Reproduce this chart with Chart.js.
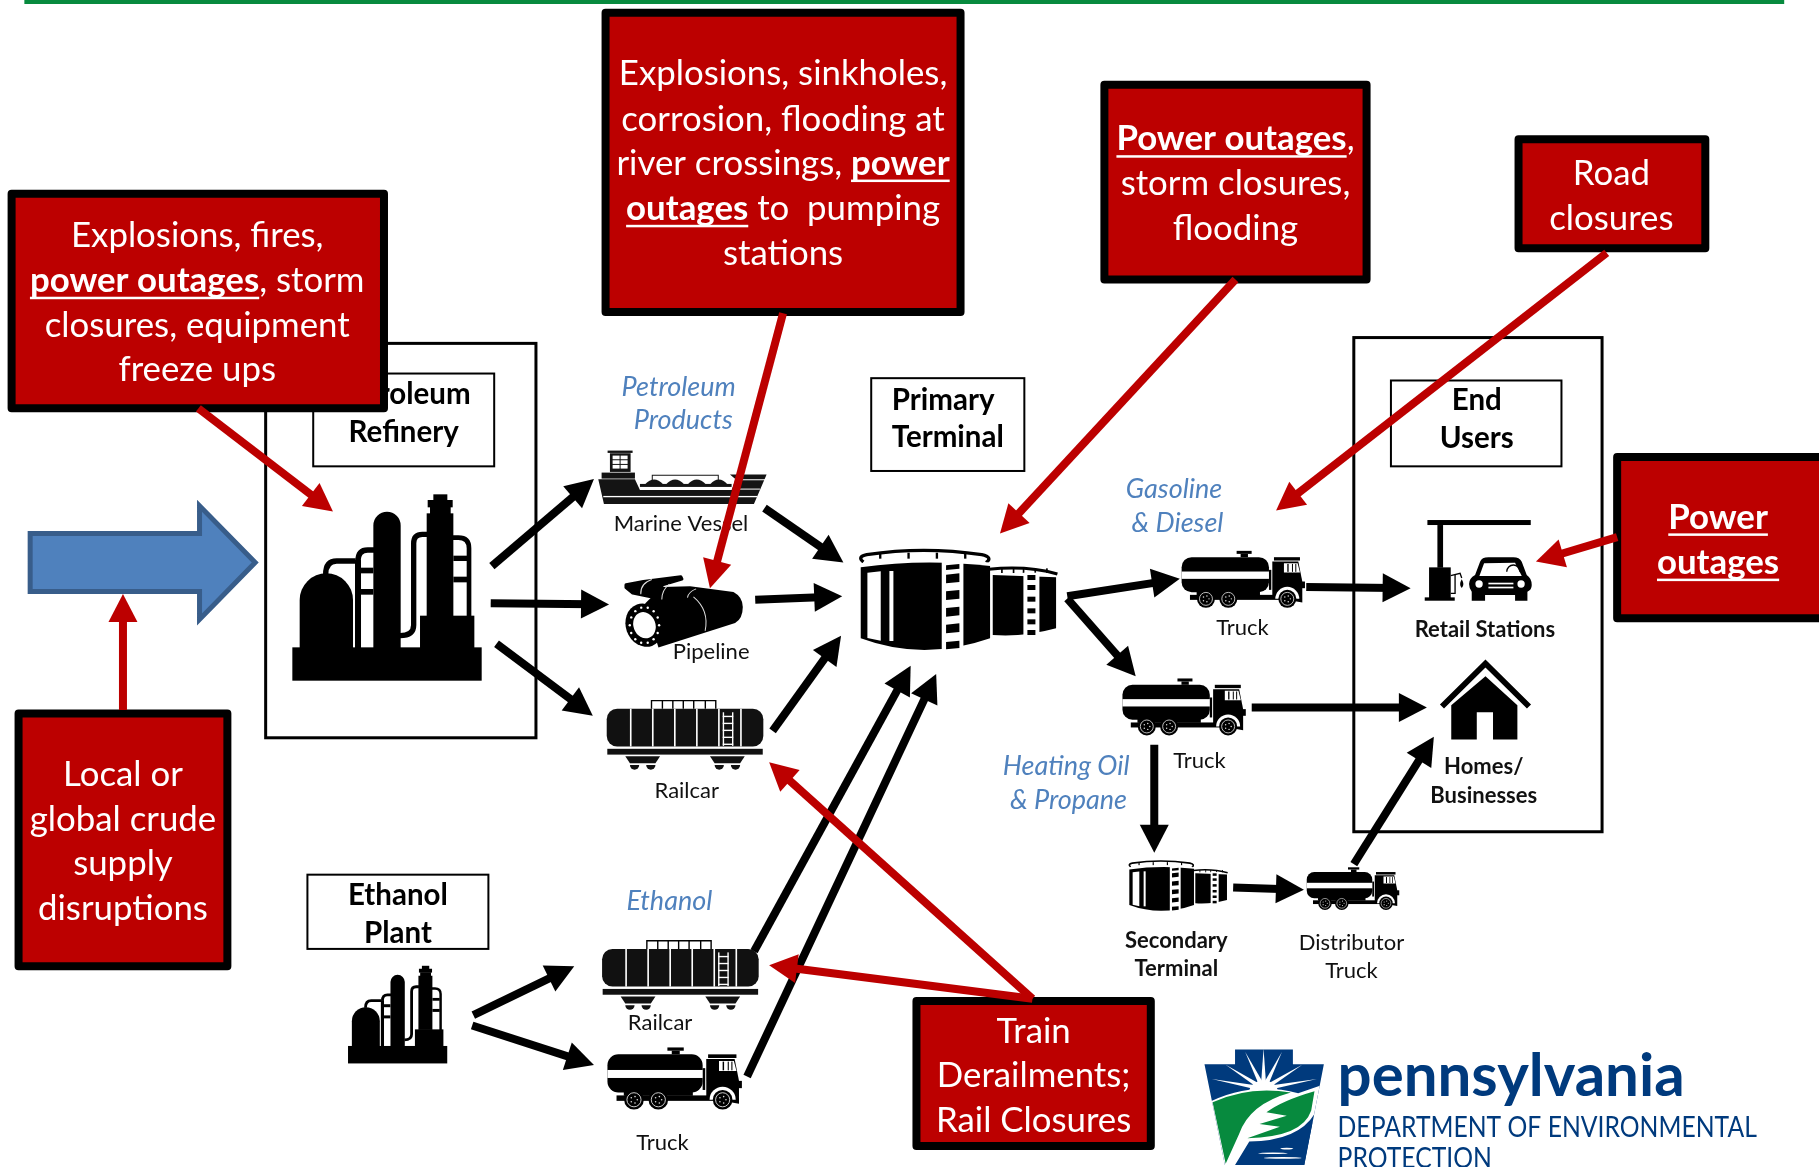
<!DOCTYPE html>
<html>
<head>
<meta charset="utf-8">
<title>Petroleum supply chain hazards</title>
<script src="https://cdn.jsdelivr.net/npm/chart.js@4"></script>
<style>
  html, body { margin: 0; padding: 0; background: #fff; }
  canvas { display: block; }
</style>
</head>
<body>
<canvas id="chart" width="1819" height="1167"></canvas>
<script>
// all coordinates are in the axis units (0-1568 across, 0-1006 down)
const blackArrows = [
  [424, 488, 512, 413], [423, 520, 525, 521], [428, 555, 511, 617],
  [659, 438, 727, 485], [651, 517, 726, 514], [666, 630, 725, 548],
  [650, 820, 785, 574], [644, 928, 807, 581],
  [408, 875, 495, 833], [407, 884, 512, 918],
  [920, 514, 1017, 499], [920, 516, 979, 583],
  [1126, 506, 1216, 507], [1079, 610, 1230, 610], [995, 642, 995, 735],
  [1063, 765, 1124, 767], [1167, 745, 1236, 635],
];
const redArrows = [
  [171, 352, 287, 441], [106, 612, 106, 512], [675, 270, 612, 507],
  [1065, 241, 862, 460], [1385, 218, 1100, 440], [1394, 463, 1324, 484],
  [890, 861, 663, 657], [890, 861, 663, 832],
];

// [left, top, right, bottom]
const hazardBoxes = [
  [10, 167, 331, 352], [522, 11, 828, 269], [952, 73, 1178, 241], [1309, 120, 1470, 214],
  [1394, 394, 1572, 533], [16, 615, 196, 833], [790, 863, 992, 988],
];
const hazardCentres = [170, 675, 1065, 1389, 1481, 106, 891];
const hazardLineY = [
  [203, 242, 281, 319], [64, 103, 141, 180, 219], [120, 158, 197], [150, 189],
  [446, 485], [668, 707, 745, 783], [889, 927, 966],
];
// a run wrapped in * * is bold and underlined
const hazardText = [
  ['Explosions, fires,', '*power outages*, storm', 'closures, equipment', 'freeze ups'],
  ['Explosions, sinkholes,', 'corrosion, flooding at', 'river crossings, *power*', '*outages* to  pumping', 'stations'],
  ['*Power outages*,', 'storm closures,', 'flooding'],
  ['Road', 'closures'],
  ['*Power*', '*outages*'],
  ['Local or', 'global crude', 'supply', 'disruptions'],
  ['Train', 'Derailments;', 'Rail Closures'],
];

const frames = [[229, 296, 462, 636], [1167, 291, 1381, 717]];
const titleBoxes = [[270, 322, 426, 402], [751, 326, 883, 406], [1199, 328, 1346, 402], [265, 754, 421, 818]];
const titleText = [
  ['Petroleum', 347, 340], ['Refinery', 348, 373],
  ['Primary', 813, 345], ['Terminal', 817, 377],
  ['End', 1273, 345], ['Users', 1273, 378],
  ['Ethanol', 343, 772], ['Plant', 343, 805],
];
const productText = [
  ['Petroleum', 585, 334], ['Products', 589, 362],
  ['Gasoline', 1012, 422], ['& Diesel', 1015, 451],
  ['Heating Oil', 919, 661], ['& Propane', 921, 690],
  ['Ethanol', 577, 777],
];
const modeText = [
  ['Marine Vessel', 587, 452], ['Pipeline', 613, 562], ['Railcar', 592, 682],
  ['Railcar', 569, 882], ['Truck', 571, 985], ['Truck', 1071, 541],
  ['Truck', 1034, 656], ['Distributor', 1165, 813], ['Truck', 1165, 837],
];
const placeText = [
  ['Retail Stations', 1280, 543], ['Homes/', 1279, 661], ['Businesses', 1279, 686],
  ['Secondary', 1014, 811], ['Terminal', 1014, 835],
];
const blueArrow = [[26, 460], [172, 460], [172, 436], [220, 485], [172, 534], [172, 510], [26, 510]];

// icon placements: [left, top, scale]
const refineries = [[252, 427, 1], [300, 833, 0.524]];
const tanks = [[739, 472, 1], [972, 741, 0.5]];
const trucks = [[1018, 474, 1], [967, 584, 1], [1126, 747, 0.75], [523, 902, 1.09]];
const railcars = [[523, 603, 1], [519, 810, 1]];

const RED = '#BC0000';
const BLACK = '#000';
const FONT = 'Lato';
const ICON = 1 / 3.48; // icons are traced at 3x the full size picture

function arrowDataset(a, color) {
  const len = Math.hypot(a[2] - a[0], a[3] - a[1]);
  const back = (len - 14) / len;
  return {
    data: [{ x: a[0], y: a[1] }, { x: a[0] + (a[2] - a[0]) * back, y: a[1] + (a[3] - a[1]) * back }],
    tip: { x: a[2], y: a[3] },
    borderColor: color,
    borderWidth: 8,
    pointRadius: 0,
    showLine: true,
    tension: 0,
  };
}

function text(ctx, s, x, y, font, color) {
  ctx.font = font;
  ctx.fillStyle = color;
  ctx.textAlign = 'center';
  ctx.textBaseline = 'middle';
  ctx.fillText(s, x, y);
}

function hazardLine(ctx, line, cx, y) {
  const parts = line.split('*');
  const reg = '34.8px ' + FONT;
  const bold = 'bold 34.8px ' + FONT;
  let total = 0;
  parts.forEach((p, i) => { ctx.font = i % 2 ? bold : reg; total += ctx.measureText(p).width; });
  let x = cx - total / 2;
  ctx.textAlign = 'left';
  ctx.textBaseline = 'middle';
  ctx.fillStyle = '#fff';
  parts.forEach((p, i) => {
    ctx.font = i % 2 ? bold : reg;
    const w = ctx.measureText(p).width;
    ctx.fillText(p, x, y);
    if (i % 2) ctx.fillRect(x, y + 16, w, 2.5);
    x += w;
  });
}

function poly(ctx, pts) {
  ctx.beginPath();
  pts.forEach((p, i) => (i ? ctx.lineTo(p[0], p[1]) : ctx.moveTo(p[0], p[1])));
  ctx.closePath();
}

function trace(c, ox, oy) {
  c.scale(ICON, ICON);
  c.translate(-ox, -oy);
}

function drawRefinery(c) {
  trace(c, 22, 31);
  c.fillStyle = BLACK;
  c.strokeStyle = BLACK;
  c.fillRect(22, 487, 568, 100);
  c.beginPath(); c.arc(124, 345, 80, Math.PI, 0); c.lineTo(204, 490); c.lineTo(44, 490); c.fill();
  c.beginPath(); c.arc(306, 121, 41, Math.PI, 0); c.lineTo(347, 490); c.lineTo(265, 490); c.fill();
  c.fillRect(445, 28, 42, 20);
  c.fillRect(428, 45, 75, 22);
  c.fillRect(435, 65, 62, 22);
  c.fillRect(425, 85, 80, 310);
  c.fillRect(405, 392, 163, 98);
  c.fillRect(210, 225, 18, 265);
  c.fillRect(228, 248, 37, 17);
  c.fillRect(228, 312, 37, 17);
  c.lineWidth = 16;
  c.beginPath(); c.moveTo(122, 268); c.quadraticCurveTo(122, 228, 155, 228); c.lineTo(212, 228); c.stroke();
  c.beginPath(); c.moveTo(219, 228); c.quadraticCurveTo(219, 195, 248, 195); c.lineTo(268, 195); c.stroke();
  c.beginPath(); c.moveTo(428, 148); c.lineTo(412, 148); c.quadraticCurveTo(386, 148, 386, 175);
  c.lineTo(386, 420); c.quadraticCurveTo(386, 452, 345, 452); c.stroke();
  c.lineWidth = 14;
  c.beginPath(); c.moveTo(502, 158); c.lineTo(520, 158); c.quadraticCurveTo(552, 158, 552, 190); c.lineTo(552, 395); c.stroke();
  c.fillRect(505, 212, 42, 16);
  c.fillRect(505, 275, 42, 17);
}

function drawTank(c) {
  trace(c, 21.7, 22.6);
  c.fillStyle = BLACK;
  c.strokeStyle = BLACK;
  // small tank first so the big one sits in front
  c.beginPath(); c.moveTo(428, 105); c.lineTo(618, 112); c.lineTo(618, 265);
  c.quadraticCurveTo(520, 292, 428, 285); c.closePath(); c.fill();
  c.lineWidth = 9;
  c.beginPath(); c.moveTo(416, 88); c.quadraticCurveTo(530, 76, 622, 102); c.stroke();
  [455, 490, 520, 555, 590].forEach((x) => c.fillRect(x - 2, 85, 5, 14));
  c.beginPath(); c.moveTo(32, 82); c.quadraticCurveTo(220, 55, 420, 78); c.lineTo(420, 295);
  c.quadraticCurveTo(220, 365, 32, 295); c.closePath(); c.fill();
  c.lineWidth = 10;
  c.beginPath(); c.moveTo(40, 66); c.quadraticCurveTo(20, 50, 50, 44); c.quadraticCurveTo(220, 18, 395, 44);
  c.quadraticCurveTo(430, 52, 408, 68); c.stroke();
  [90, 175, 260, 345].forEach((x) => c.fillRect(x - 3, 38, 7, 18));
  c.fillStyle = '#fff';
  c.lineWidth = 5;
  c.strokeStyle = '#fff';
  c.beginPath(); c.moveTo(30, 72); c.quadraticCurveTo(220, 52, 420, 70); c.stroke();
  poly(c, [[52, 98], [92, 94], [92, 302], [52, 294]]); c.fill();
  c.fillRect(118, 93, 12, 210);
  c.fillRect(275, 64, 65, 270);
  c.fillRect(520, 98, 48, 192);
  c.fillStyle = BLACK;
  [[72, 18], [100, 30], [150, 30], [200, 30], [250, 30], [302, 26]].forEach((s) => {
    poly(c, [[288, s[0] + 4], [328, s[0]], [328, s[0] + s[1] - 4], [288, s[0] + s[1]]]); c.fill();
  });
  [105, 135, 170, 205, 238, 270].forEach((y) => c.fillRect(532, y, 24, 15));
}

function wheel(c, x, y, r) {
  c.fillStyle = BLACK;
  c.beginPath(); c.arc(x, y, r, 0, 7); c.fill();
  c.strokeStyle = '#ddd';
  c.lineWidth = 2.5;
  c.beginPath(); c.arc(x, y, r * 0.72, 0, 7); c.stroke();
  c.fillStyle = '#ddd';
  for (let i = 0; i < 5; i++) {
    c.beginPath(); c.arc(x + r * 0.34 * Math.cos(i * 1.257), y + r * 0.34 * Math.sin(i * 1.257), 2.2, 0, 7); c.fill();
  }
}

function drawTruck(c) {
  trace(c, 33, 30);
  c.fillStyle = BLACK;
  c.beginPath(); c.roundRect(35, 52, 262, 105, 30); c.fill();
  c.fillRect(200, 33, 45, 9);
  c.fillRect(212, 42, 22, 10);
  c.fillRect(297, 90, 7, 60);
  c.fillRect(60, 165, 270, 15);
  c.fillRect(80, 152, 190, 14);
  c.fillRect(312, 52, 78, 10);
  poly(c, [[307, 65], [385, 65], [397, 125], [397, 188], [307, 172]]);
  c.fill();
  c.fillRect(387, 125, 18, 20);
  c.fillStyle = '#fff';
  c.fillRect(35, 95, 262, 22);
  poly(c, [[342, 70], [383, 70], [390, 98], [342, 98]]);
  c.fill();
  c.beginPath(); c.arc(352, 177, 36, Math.PI, 0); c.fill();
  c.fillStyle = BLACK;
  c.fillRect(352, 72, 4, 24);
  c.fillRect(366, 72, 3, 24);
  c.fillRect(376, 72, 3, 24);
  wheel(c, 108, 177, 27);
  wheel(c, 175, 177, 27);
  wheel(c, 352, 177, 27);
}

function drawRailcar(c) {
  c.strokeStyle = BLACK;
  c.lineWidth = 1.2;
  c.beginPath(); c.moveTo(38.6, 8); c.lineTo(38.6, 1); c.lineTo(94, 1); c.lineTo(94, 8);
  [48, 57, 66, 75, 85].forEach((x) => { c.moveTo(x, 1); c.lineTo(x, 8); });
  c.stroke();
  c.fillStyle = '#111';
  c.beginPath(); c.roundRect(0, 8, 135, 32.5, 9); c.fill();
  c.fillRect(0.5, 42.5, 134, 5);
  [[16, 46], [89, 119]].forEach((b) => {
    poly(c, [[b[0], 49], [b[1], 49], [b[1] - 4, 55], [b[0] + 4, 55]]);
    c.fill();
    [b[0] + 8, b[1] - 8].forEach((x) => { c.beginPath(); c.arc(x, 56.5, 4, 0, Math.PI); c.fill(); });
  });
  c.fillStyle = '#fff';
  [20, 39, 58, 77, 96, 115].forEach((x) => c.fillRect(x, 8, 1.4, 32.5));
  c.fillRect(100, 11, 1.2, 29);
  c.fillRect(108, 11, 1.2, 29);
  for (let y = 14; y < 40; y += 6) c.fillRect(100, y, 9, 1.2);
}

function drawShip(c) {
  trace(c, 26, 34);
  c.fillStyle = '#141414';
  c.strokeStyle = '#141414';
  poly(c, [[25, 118], [135, 118], [150, 150], [425, 150], [437, 118], [420, 104], [530, 104], [492, 192], [42, 192]]);
  c.fill();
  c.fillRect(53, 32, 75, 7);
  c.fillRect(60, 40, 62, 56);
  c.fillRect(35, 98, 100, 18);
  c.fillRect(150, 132, 275, 9);
  [[165, 220], [228, 283], [293, 348], [360, 413]].forEach((t) => {
    c.beginPath(); c.moveTo(t[0], 134); c.quadraticCurveTo((t[0] + t[1]) / 2, 104, t[1], 134); c.fill();
  });
  c.lineWidth = 3;
  c.beginPath(); c.moveTo(187, 120); c.lineTo(187, 106); c.lineTo(385, 106); c.lineTo(385, 120); c.stroke();
  c.fillStyle = '#fff';
  c.fillRect(40, 168, 462, 4);
  c.fillRect(432, 118, 98, 3);
  c.fillRect(440, 146, 70, 3);
  for (let i = 0; i < 2; i++) for (let j = 0; j < 3; j++) c.fillRect(68 + i * 24, 47 + j * 14, 21, 11);
}

function drawPipeline(c) {
  trace(c, 102, 402);
  c.fillStyle = BLACK;
  c.strokeStyle = BLACK;
  c.lineJoin = 'round';
  c.lineWidth = 10;
  poly(c, [[108, 434], [160, 424], [272, 410], [275, 416], [215, 434], [215, 476], [128, 458], [108, 442]]);
  c.fill();
  c.stroke();
  c.beginPath(); c.moveTo(165, 490); c.lineTo(215, 440); c.lineTo(300, 438); c.lineTo(430, 455);
  c.quadraticCurveTo(458, 470, 458, 500); c.quadraticCurveTo(458, 535, 435, 548);
  c.lineTo(205, 622); c.closePath(); c.fill();
  c.beginPath(); c.ellipse(163, 555, 56, 66, -0.35, 0, 7); c.fill();
  c.strokeStyle = '#ddd';
  c.lineWidth = 3;
  c.beginPath(); c.moveTo(310, 470); c.quadraticCurveTo(358, 510, 345, 572); c.stroke();
  c.beginPath(); c.moveTo(238, 432); c.quadraticCurveTo(215, 450, 215, 478); c.stroke();
  c.beginPath(); c.moveTo(318, 446); c.quadraticCurveTo(295, 455, 292, 472); c.stroke();
  c.beginPath(); c.moveTo(185, 418); c.quadraticCurveTo(150, 430, 152, 462); c.stroke();
  c.fillStyle = '#fff';
  c.beginPath(); c.ellipse(163, 555, 33, 40, -0.35, 0, 7); c.fill();
  for (let i = 0; i < 14; i++) {
    const a = i * 0.449;
    c.beginPath(); c.arc(163 + 44 * Math.cos(a), 555 + 54 * Math.sin(a), 3.6, 0, 7); c.fill();
  }
}

function drawStation(c) {
  trace(c, 17, 29);
  c.fillStyle = BLACK;
  c.fillRect(22, 30, 310, 15);
  c.fillRect(52, 45, 17, 128);
  c.fillRect(27, 172, 65, 92);
  c.fillRect(14, 262, 90, 10);
  c.strokeStyle = BLACK;
  c.lineWidth = 4;
  c.beginPath(); c.moveTo(92, 197); c.lineTo(120, 190); c.lineTo(125, 204); c.stroke();
  c.beginPath(); c.moveTo(92, 250); c.lineTo(105, 250); c.lineTo(105, 195); c.stroke();
  c.beginPath(); c.moveTo(125, 208); c.quadraticCurveTo(135, 225, 125, 234); c.quadraticCurveTo(115, 225, 125, 208); c.fill();
  // car
  c.beginPath(); c.moveTo(165, 195); c.lineTo(180, 155); c.quadraticCurveTo(185, 142, 205, 142);
  c.lineTo(280, 142); c.quadraticCurveTo(298, 142, 305, 155); c.lineTo(320, 195);
  c.quadraticCurveTo(335, 205, 335, 225); c.quadraticCurveTo(335, 240, 322, 245);
  c.lineTo(322, 272); c.lineTo(285, 272); c.lineTo(285, 255); c.lineTo(195, 255); c.lineTo(195, 272);
  c.lineTo(155, 272); c.lineTo(155, 245); c.quadraticCurveTo(147, 235, 147, 222);
  c.quadraticCurveTo(147, 205, 165, 195); c.closePath(); c.fill();
  c.fillStyle = '#fff';
  poly(c, [[178, 198], [192, 160], [285, 158], [305, 198]]);
  c.fill();
  c.beginPath(); c.arc(177, 222, 11, 0, 7); c.fill();
  c.beginPath(); c.arc(303, 222, 11, 0, 7); c.fill();
  c.fillRect(205, 218, 75, 5);
  c.fillRect(205, 230, 75, 5);
  c.strokeStyle = BLACK;
  c.beginPath(); c.arc(280, 185, 20, Math.PI, 0); c.stroke();
}

function drawHouse(c) {
  c.strokeStyle = BLACK;
  c.fillStyle = BLACK;
  c.lineWidth = 5;
  c.beginPath(); c.moveTo(2, 39); c.lineTo(39.5, 2); c.lineTo(77, 39); c.stroke();
  poly(c, [[39.5, 13], [67, 38], [67, 67.5], [46, 67.5], [46, 44], [32, 44], [32, 67.5], [10, 67.5], [10, 38]]);
  c.fill();
}

// keystone is drawn in its own 0-412 / 0-440 box
function drawKeystone(c) {
  const NAVY = '#003A7D';
  poly(c, [[60, 132], [135, 132], [135, 88], [277, 88], [277, 132], [353, 132], [305, 432], [110, 432]]);
  c.fillStyle = NAVY;
  c.fill();
  c.save();
  c.clip();
  c.fillStyle = '#fff';
  [[205, 85], [160, 95], [250, 95], [112, 133], [300, 133], [78, 176], [336, 176]].forEach((r) => {
    const dx = r[0] - 205, dy = r[1] - 205, l = Math.hypot(dx, dy);
    const nx = -dy / l * 7, ny = dx / l * 7;
    poly(c, [[r[0], r[1]], [205 + nx, 205 + ny], [205 - nx, 205 - ny]]);
    c.fill();
  });
  c.beginPath(); c.arc(205, 215, 35, 0, 7); c.fill();
  c.fillStyle = '#fff';
  c.beginPath(); c.moveTo(60, 252); c.quadraticCurveTo(170, 180, 290, 218); c.lineTo(345, 195);
  c.lineTo(340, 290); c.lineTo(200, 440); c.lineTo(100, 440); c.closePath(); c.fill();
  c.fillStyle = '#078A3E';
  c.beginPath(); c.moveTo(80, 245); c.quadraticCurveTo(170, 195, 272, 216);
  c.quadraticCurveTo(170, 250, 145, 340); c.lineTo(112, 428); c.closePath(); c.fill();
  c.beginPath(); c.moveTo(330, 212); c.quadraticCurveTo(250, 240, 212, 275); c.lineTo(262, 285);
  c.lineTo(195, 310); c.lineTo(245, 318); c.lineTo(165, 352);
  c.quadraticCurveTo(300, 350, 322, 270); c.closePath(); c.fill();
  c.fillStyle = NAVY;
  c.beginPath(); c.moveTo(135, 432); c.lineTo(170, 362); c.quadraticCurveTo(290, 360, 330, 280);
  c.lineTo(305, 440); c.closePath(); c.fill();
  c.fillStyle = '#fff';
  [[262, 383, 16], [228, 397, 36], [252, 411, 46]].forEach((e) => {
    c.beginPath(); c.ellipse(e[0], e[1], e[2], 2.5, 0, 0, 7); c.fill();
  });
  c.restore();
}

const diagramPlugin = {
  id: 'diagram',
  beforeDatasetsDraw(chart) {
    const ctx = chart.ctx;
    const X = (v) => chart.scales.x.getPixelForValue(v);
    const Y = (v) => chart.scales.y.getPixelForValue(v);
    const k = X(1) - X(0);

    const icon = (fn, left, top, s) => {
      ctx.save();
      ctx.translate(X(left), Y(top));
      ctx.scale(k * s, k * s);
      fn(ctx);
      ctx.restore();
    };
    const box = (b, lw) => {
      ctx.lineWidth = lw;
      ctx.strokeStyle = BLACK;
      ctx.fillStyle = '#fff';
      ctx.fillRect(X(b[0]), Y(b[1]), X(b[2]) - X(b[0]), Y(b[3]) - Y(b[1]));
      ctx.strokeRect(X(b[0]), Y(b[1]), X(b[2]) - X(b[0]), Y(b[3]) - Y(b[1]));
    };

    // green rule along the top
    ctx.fillStyle = '#078A3E';
    ctx.fillRect(X(21), 0, X(1538) - X(21), 4);

    frames.forEach((b) => box(b, 3));
    titleBoxes.forEach((b) => box(b, 2));

    poly(ctx, blueArrow.map((p) => [X(p[0]), Y(p[1])]));
    ctx.fillStyle = '#4F81BD';
    ctx.fill();
    ctx.strokeStyle = '#385D8A';
    ctx.lineWidth = 5;
    ctx.stroke();

    refineries.forEach((p) => icon(drawRefinery, p[0], p[1], p[2]));
    tanks.forEach((p) => icon(drawTank, p[0], p[1], p[2]));
    trucks.forEach((p) => icon(drawTruck, p[0], p[1], p[2]));
    railcars.forEach((p) => icon(drawRailcar, p[0], p[1], p[2]));
    icon(drawShip, 516, 389, 1);
    icon(drawPipeline, 538, 495, 1);
    icon(drawStation, 1229, 448, 1);
    icon(drawHouse, 1241, 570, 1);

    titleText.forEach((t) => text(ctx, t[0], X(t[1]), Y(t[2]), 'bold 29.5px ' + FONT, BLACK));
    productText.forEach((t) => text(ctx, t[0], X(t[1]), Y(t[2]), 'italic 27px ' + FONT, '#4F81BD'));
    modeText.forEach((t) => text(ctx, t[0], X(t[1]), Y(t[2]), '22px ' + FONT, '#111'));
    placeText.forEach((t) => text(ctx, t[0], X(t[1]), Y(t[2]), 'bold 22px ' + FONT, '#111'));

    hazardBoxes.forEach((b, i) => {
      ctx.fillStyle = RED;
      ctx.strokeStyle = BLACK;
      ctx.lineWidth = 8;
      ctx.lineJoin = 'round';
      ctx.fillRect(X(b[0]), Y(b[1]), X(b[2]) - X(b[0]), Y(b[3]) - Y(b[1]));
      ctx.strokeRect(X(b[0]), Y(b[1]), X(b[2]) - X(b[0]), Y(b[3]) - Y(b[1]));
      hazardText[i].forEach((line, j) => hazardLine(ctx, line, X(hazardCentres[i]), Y(hazardLineY[i][j])));
    });
    ctx.lineJoin = 'miter';

    // logo
    ctx.save();
    ctx.translate(X(1017.2), Y(879.3));
    ctx.scale(1.16 / 2.847, 1.16 / 3.457);
    drawKeystone(ctx);
    ctx.restore();
    ctx.textAlign = 'left';
    ctx.textBaseline = 'alphabetic';
    ctx.fillStyle = '#003A7D';
    ctx.font = 'bold 60px ' + FONT;
    ctx.fillText('pennsylvania', X(1153), Y(945));
    ctx.save();
    ctx.translate(X(1153), Y(980));
    ctx.scale(0.883, 1);
    ctx.font = '28px ' + FONT;
    ctx.fillText('DEPARTMENT OF ENVIRONMENTAL', 0, 0);
    ctx.fillText('PROTECTION', 0, Y(1007) - Y(980));
    ctx.restore();
  },
  afterDatasetDraw(chart, args) {
    const ds = chart.data.datasets[args.index];
    const ctx = chart.ctx;
    const sx = chart.scales.x, sy = chart.scales.y;
    const x0 = sx.getPixelForValue(ds.data[0].x), y0 = sy.getPixelForValue(ds.data[0].y);
    const x1 = sx.getPixelForValue(ds.tip.x), y1 = sy.getPixelForValue(ds.tip.y);
    ctx.save();
    ctx.translate(x1, y1);
    ctx.rotate(Math.atan2(y1 - y0, x1 - x0));
    ctx.fillStyle = ds.borderColor;
    poly(ctx, [[0, 0], [-28, -14.5], [-28, 14.5]]);
    ctx.fill();
    ctx.restore();
  },
};

const datasets = [];
blackArrows.forEach((a) => datasets.push(arrowDataset(a, BLACK)));
redArrows.forEach((a) => datasets.push(arrowDataset(a, RED)));
// higher order is painted first, so the red arrows land on top
datasets.forEach((d, i) => { d.order = datasets.length - i; });

new Chart(document.getElementById('chart'), {
  type: 'scatter',
  data: { datasets: datasets },
  options: {
    responsive: false,
    animation: false,
    layout: { padding: 0 },
    plugins: { legend: { display: false }, tooltip: { enabled: false } },
    scales: {
      x: { type: 'linear', min: 0, max: 1568, display: false },
      y: { type: 'linear', min: 0, max: 1006, reverse: true, display: false },
    },
  },
  plugins: [diagramPlugin],
});
</script>
</body>
</html>
